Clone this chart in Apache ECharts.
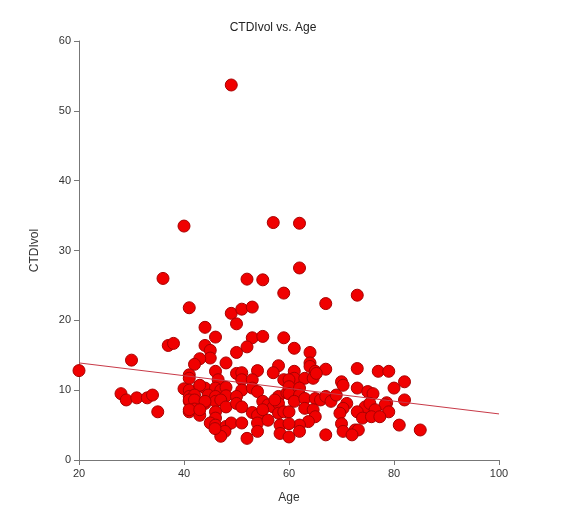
<!DOCTYPE html>
<html style="height: 100%">
<head>
	<meta charset="utf-8">
</head>
<body style="height: 100%; margin: 0; background: #fff">
<div id="container" style="height: 100%"></div>
<script type="text/javascript" src="https://cdn.jsdelivr.net/npm/echarts@6/dist/echarts.min.js"></script>
<script type="text/javascript">
    var chartTitle = "CTDIvol vs. Age";
    var xName = "Age";
    var yName = "CTDIvol";

    // [age, CTDIvol]
    var scatterData = [
        [49, 53.7], [40, 33.5], [57, 34.0], [62, 33.9], [62, 27.5], [36, 26.0], [52, 25.9], [55, 25.8],
        [59, 23.9], [67, 22.4], [73, 23.6], [41, 21.8], [49, 21.0], [51, 21.6], [53, 21.9], [44, 19.0],
        [50, 19.5], [46, 17.6], [53, 17.5], [55, 17.7], [59, 17.5], [37, 16.4], [38, 16.7], [44, 16.4],
        [45, 15.7], [52, 16.2], [50, 15.4], [61, 16.0], [64, 15.4], [45, 14.6], [43, 14.5], [42, 13.7],
        [48, 13.9], [64, 13.9], [64, 13.4], [58, 13.5], [30, 14.3], [20, 12.8],
        [28, 9.5], [29, 8.6], [31, 8.9], [33, 8.9], [34, 9.3], [35, 6.9],
        [46, 12.7], [50, 12.4], [51, 12.5], [54, 12.8], [57, 12.5], [41, 12.2], [61, 12.7], [65, 12.7],
        [67, 13.0], [73, 13.1], [77, 12.7], [79, 12.7], [41, 11.7], [46.5, 11.5], [51, 11.5], [53, 11.5],
        [59, 11.5], [61, 11.7], [60, 11.5], [63, 11.7], [64.6, 11.7], [65.2, 12.4], [70, 11.2], [70.3, 10.7],
        [82, 11.2],
        [40, 10.2], [41, 10.0], [43, 10.6], [44, 10.3], [46, 10.3], [47, 10.0], [48, 10.4], [51, 10.0],
        [53, 10.3], [54, 9.8], [58, 9.1], [59.6, 9.6], [60, 10.5], [60, 9.5], [62, 10.3], [62, 9.3],
        [73, 10.3], [75, 9.8], [76, 9.5], [80, 10.3], [43, 10.7],
        [41, 9.1], [42, 9.3], [44.6, 9.3], [46, 9.1], [48, 9.2], [50, 9.1], [61, 8.4], [63, 8.8],
        [65, 8.8], [66, 8.6], [67, 9.1], [68, 8.4], [69, 9.3], [82, 8.6], [78.6, 8.2],
        [41, 8.4], [42, 8.1], [44, 8.1], [46, 8.4], [47, 8.6], [48, 7.6], [50, 8.1], [51, 7.6],
        [55, 8.4], [56, 7.9], [57, 7.6], [58, 8.1], [57.3, 8.6], [71, 8.1], [70.3, 7.4], [74.5, 7.6],
        [75.4, 8.1], [78.3, 7.9], [41, 8.6], [42, 8.6], [44, 8.4],
        [41, 6.9], [42, 7.3], [43, 6.4], [46, 6.9], [46, 6.0], [53, 6.8], [54, 6.4], [55, 7.2],
        [58, 6.7], [59, 6.9], [60, 6.9], [63, 7.4], [64.6, 7.2], [65, 6.2], [73, 6.9], [76.4, 7.2],
        [79, 6.9], [69.7, 6.7], [74, 6.0], [75.7, 6.2], [77.3, 6.2], [41, 7.2], [43, 7.2],
        [45, 5.3], [46, 5.0], [48, 4.8], [49, 5.3], [47.8, 4.1], [47, 3.4], [51, 5.3], [52, 3.1],
        [54, 5.3], [54, 4.1], [56, 5.7], [58.3, 5.0], [58.3, 3.8], [60, 3.3], [63.7, 5.5], [62, 5.0],
        [60, 5.2], [62, 4.1], [67, 3.6], [70, 5.2], [70.3, 4.1], [72.6, 4.3], [73.2, 4.3], [72, 3.6],
        [81, 5.0], [85, 4.3], [45.9, 4.5]
    ];

    // fitted trend line end points
    var fitLine = [[20, 13.9], [100, 6.6]];

    var xRange = [20, 100];
    var yRange = [0, 60];

    var dom = document.getElementById("container");
    var myChart = echarts.init(dom);

    var axisFont = {
        color: '#333',
        fontFamily: 'Liberation Sans',
        fontSize: 11
    };

    var option = {
        backgroundColor: '#fff',
        animation: false,
        title: {
            text: chartTitle,
            left: 268,
            top: 17,
            textAlign: 'center',
            textStyle: {
                color: '#222',
                fontFamily: 'Liberation Sans',
                fontSize: 12,
                fontWeight: 'normal'
            }
        },
        grid: {
            left: 79,
            right: 64,
            top: 41,
            bottom: 51
        },
        xAxis: {
            type: 'value',
            min: xRange[0],
            max: xRange[1],
            interval: 20,
            name: xName,
            nameLocation: 'middle',
            nameGap: 32,
            nameTextStyle: {
                color: '#333',
                fontFamily: 'Liberation Sans',
                fontSize: 12
            },
            axisLine: { show: true, lineStyle: { color: '#777', width: 1 } },
            axisTick: { show: true, length: 5, lineStyle: { color: '#777' } },
            axisLabel: axisFont,
            splitLine: { show: false }
        },
        yAxis: {
            type: 'value',
            min: yRange[0],
            max: yRange[1],
            interval: 10,
            name: yName,
            nameLocation: 'middle',
            nameGap: 38,
            nameTextStyle: {
                color: '#333',
                fontFamily: 'Liberation Sans',
                fontSize: 12
            },
            axisLine: { show: true, lineStyle: { color: '#777', width: 1 } },
            axisTick: { show: true, length: 5, lineStyle: { color: '#777' } },
            axisLabel: axisFont,
            splitLine: { show: false }
        },
        series: [{
            type: 'scatter',
            data: scatterData,
            symbolSize: 12,
            itemStyle: {
                color: '#f00000',
                borderColor: '#a80000',
                borderWidth: 1,
                opacity: 1
            }
        }, {
            type: 'line',
            data: fitLine,
            symbol: 'none',
            silent: true,
            lineStyle: {
                color: '#c83a48',
                width: 1
            },
            z: 3
        }]
    };

    if (option && typeof option === "object") {
        myChart.setOption(option, true);
    }
</script>
</body>
</html>
